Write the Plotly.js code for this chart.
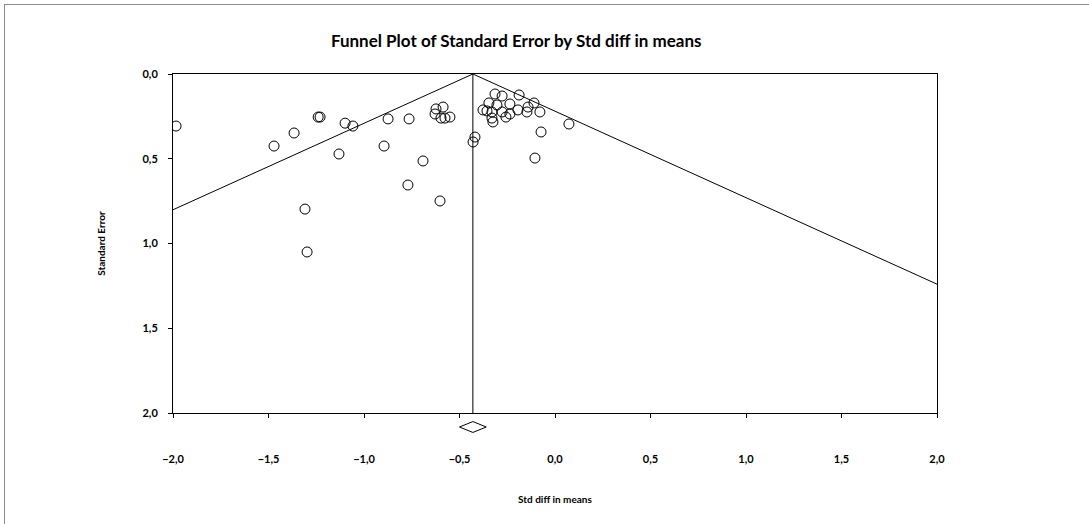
<!DOCTYPE html>
<html>
<head>
<meta charset="utf-8">
<script src="https://cdn.plot.ly/plotly-3.0.1.min.js"></script>
<style>
  html, body { margin: 0; padding: 0; background: #fff; }
  #wrap { position: relative; width: 1089px; height: 524px; }
  #chart { width: 1089px; height: 524px; }
  #frame { position: absolute; left: 4px; top: 4px; right: 0; bottom: 0;
           border-left: 1px solid #8c8c8c; border-top: 1px solid #8c8c8c; pointer-events: none; }
</style>
</head>
<body>
<div id="wrap"><div id="chart"></div><div id="frame"></div></div>
<script>
// Study effect sizes (Std diff in means) and their standard errors
const studyEffect = [
  -1.984, -1.471, -1.366, -1.240, -1.230, -1.099, -1.058, -1.131, -0.874, -0.764,
  -0.895, -0.691, -0.628, -0.623, -0.586, -0.597, -0.576, -0.550, -0.770, -0.602,
  -1.309, -1.298,
  -0.314, -0.277, -0.188, -0.346, -0.304, -0.236, -0.377, -0.356, -0.330, -0.277,
  -0.257, -0.236, -0.194, -0.147, -0.141, -0.110, -0.079, 0.073, -0.073, -0.105,
  -0.419, -0.429, -0.330, -0.325
];
const studySE = [
  0.307, 0.425, 0.348, 0.254, 0.254, 0.290, 0.307, 0.472, 0.265, 0.265,
  0.425, 0.513, 0.236, 0.206, 0.195, 0.260, 0.260, 0.254, 0.655, 0.749,
  0.797, 1.050,
  0.118, 0.130, 0.124, 0.171, 0.183, 0.177, 0.212, 0.218, 0.224, 0.224,
  0.254, 0.236, 0.212, 0.224, 0.195, 0.171, 0.224, 0.295, 0.342, 0.496,
  0.372, 0.401, 0.260, 0.283
];
// Pooled estimate and its confidence interval
const pooledMean = -0.43;
const pooledLow = -0.50;
const pooledHigh = -0.36;

const xTickVals = [-2.0, -1.5, -1.0, -0.5, 0.0, 0.5, 1.0, 1.5, 2.0];
const yTickVals = [0.0, 0.5, 1.0, 1.5, 2.0];
const xRange = [-2, 2];
const seMax = 2;

const FONT = 'Lato, "Open Sans", "Liberation Sans", sans-serif';

// Funnel (pseudo 95% limits) built from the pooled mean
const leftSE = (pooledMean - xRange[0]) / 1.96;
const rightSE = (xRange[1] - pooledMean) / 1.96;

const traces = [
  { // funnel lines
    x: [xRange[0], pooledMean, xRange[1]],
    y: [leftSE, 0, rightSE],
    mode: 'lines', line: { color: '#000', width: 1 },
    xaxis: 'x', yaxis: 'y', hoverinfo: 'skip', showlegend: false
  },
  { // vertical line at pooled mean
    x: [pooledMean, pooledMean],
    y: [0, seMax],
    mode: 'lines', line: { color: '#000', width: 1 },
    xaxis: 'x', yaxis: 'y', hoverinfo: 'skip', showlegend: false
  },
  { // studies
    x: studyEffect, y: studySE,
    mode: 'markers',
    marker: { symbol: 'circle-open', size: 10, color: '#000', line: { width: 1, color: '#000' } },
    xaxis: 'x', yaxis: 'y', showlegend: false
  },
  { // pooled diamond
    x: [pooledLow, pooledMean, pooledHigh, pooledMean, pooledLow],
    y: [0.5, 0.67, 0.5, 0.33, 0.5],
    mode: 'lines', line: { color: '#000', width: 1 },
    xaxis: 'x2', yaxis: 'y2', showlegend: false, hoverinfo: 'skip'
  }
];

const bottomStrip = 32 / 371;

const layout = {
  width: 1089, height: 524,
  margin: { l: 173, r: 152, t: 74, b: 79 },
  paper_bgcolor: '#fff', plot_bgcolor: '#fff',
  separators: ',.',
  font: { family: FONT, color: '#000', size: 11 },
  title: {
    text: 'Funnel Plot of Standard Error by Std diff in means',
    font: { family: FONT, size: 17, weight: 'bold', color: '#000' },
    x: 0.474, xref: 'container', xanchor: 'center',
    y: 1 - 41 / 524, yref: 'container', yanchor: 'middle'
  },
  xaxis: {
    domain: [0, 1], anchor: 'y', range: xRange,
    showline: true, linecolor: '#000', linewidth: 1, mirror: true,
    ticks: 'outside', ticklen: 4, tickcolor: '#000', tickwidth: 1,
    tickvals: xTickVals, showticklabels: false,
    showgrid: false, zeroline: false
  },
  yaxis: {
    domain: [bottomStrip, 1], anchor: 'x', range: [seMax, 0],
    showline: true, linecolor: '#000', linewidth: 1, mirror: true,
    ticks: 'outside', ticklen: 4, tickcolor: '#000', tickwidth: 1,
    tickvals: yTickVals, tickformat: '.1f',
    tickfont: { family: FONT, size: 11, weight: 'bold', color: '#000' },
    ticklabelstandoff: 8,
    showgrid: false, zeroline: false,
    title: { text: 'Standard Error', standoff: 34,
             font: { family: FONT, size: 10, weight: 'bold', color: '#000' } }
  },
  xaxis2: {
    matches: 'x', anchor: 'y2', range: xRange,
    showline: false, ticks: '', showgrid: false, zeroline: false,
    tickvals: xTickVals, tickformat: '.1f',
    tickfont: { family: FONT, size: 11, weight: 'bold', color: '#000' },
    ticklabelstandoff: 6,
    title: { text: 'Std diff in means', standoff: 31,
             font: { family: FONT, size: 10, weight: 'bold', color: '#000' } }
  },
  yaxis2: {
    domain: [0, bottomStrip], anchor: 'x2', range: [-0.0625, 0.9375],
    visible: false, showgrid: false, zeroline: false
  },
  showlegend: false
};

Plotly.newPlot('chart', traces, layout, { displayModeBar: false, staticPlot: true });
</script>
</body>
</html>
